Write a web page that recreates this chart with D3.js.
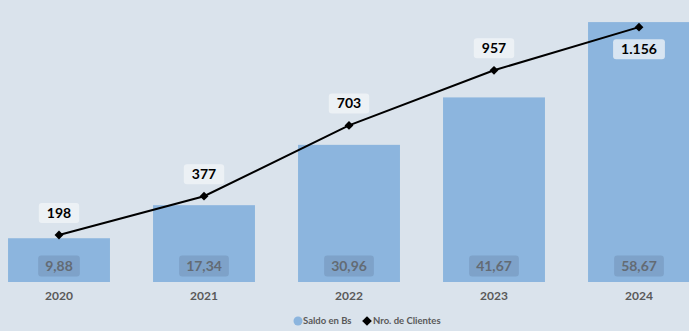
<!DOCTYPE html>
<html><head><meta charset="utf-8">
<script src="https://cdn.jsdelivr.net/npm/d3@7"></script>
<style>
html,body{margin:0;padding:0;background:#dae3ec;}
svg{display:block;font-family:Lato,"Open Sans",sans-serif;}
</style></head>
<body>
<svg id="c" width="689" height="331"></svg>
<script>
const years = ["2020","2021","2022","2023","2024"];
const saldo = [9.88, 17.34, 30.96, 41.67, 58.67];
const clientes = [198, 377, 703, 957, 1156];
const saldoLabels = ["9,88","17,34","30,96","41,67","58,67"];
const clientesLabels = ["198","377","703","957","1.156"];
const legendItems = ["Saldo en Bs","Nro. de Clientes"];

const svg = d3.select("#c");
svg.append("rect").attr("width",689).attr("height",331).attr("fill","#dae3ec");

const x = d3.scaleBand().domain(years).range([-13.5, 711.5]).paddingInner(0.297).paddingOuter(0.1485);
const yBar = d3.scaleLinear().domain([0, 63.66]).range([282, 0]);
const yLine = d3.scaleLinear().domain([0, 1281]).range([278, 0]);
const cx = d => x(d) + x.bandwidth()/2;
const diamond = d3.symbol().type(d3.symbolDiamond2);

svg.selectAll("rect.bar").data(years).join("rect").attr("class","bar")
  .attr("x", d => x(d)).attr("width", x.bandwidth())
  .attr("y", (d,i) => yBar(saldo[i])).attr("height", (d,i) => yBar(0) - yBar(saldo[i]))
  .attr("fill","#8cb5de");

// bar labels
const bl = svg.selectAll("g.bl").data(years).join("g").attr("class","bl")
  .attr("transform", d => `translate(${cx(d)},266)`);
bl.append("text").text((d,i)=>saldoLabels[i])
  .attr("text-anchor","middle").attr("dy","0.35em")
  .attr("font-size",14).attr("font-weight","bold").attr("fill","#636b74")
  .each(function(){
    const b = this.getBBox();
    d3.select(this.parentNode).insert("rect","text")
      .attr("x", b.x-7).attr("y",-10.5).attr("width", b.width+14).attr("height",21)
      .attr("rx",3).attr("fill","#7b9fc5").attr("opacity",0.85);
  });

// x axis labels
svg.selectAll("text.xl").data(years).join("text").attr("class","xl")
  .attr("x", d => cx(d)).attr("y", 296).attr("dy","0.35em")
  .attr("text-anchor","middle").attr("font-size",12).attr("font-weight","bold")
  .attr("fill","#595959").text(d=>d);

// line
const line = d3.line().x((d,i)=>cx(years[i])).y(d=>yLine(d));
svg.append("path").datum(clientes).attr("d", line)
  .attr("fill","none").attr("stroke","#000").attr("stroke-width",2);
svg.selectAll("path.mk").data(clientes).join("path").attr("class","mk")
  .attr("d", diamond.size(50))
  .attr("transform",(d,i)=>`translate(${cx(years[i])},${yLine(d)})`)
  .attr("fill","#000");

// line labels
const ll = svg.selectAll("g.ll").data(clientes).join("g").attr("class","ll")
  .attr("transform",(d,i)=>`translate(${cx(years[i])},${i===clientes.length-1 ? yLine(d)+22 : yLine(d)-22})`);
ll.append("text").text((d,i)=>clientesLabels[i])
  .attr("text-anchor","middle").attr("dy","0.35em")
  .attr("font-size",14).attr("font-weight","bold").attr("fill","#000")
  .each(function(){
    const b = this.getBBox();
    d3.select(this.parentNode).insert("rect","text")
      .attr("x", b.x-8).attr("y",-10).attr("width", b.width+16).attr("height",20)
      .attr("rx",3).attr("fill","#f2f5f8").attr("opacity",0.75);
  });

// legend
const lg = svg.append("g").attr("transform","translate(293,321)");
lg.append("circle").attr("cx",5).attr("cy",0).attr("r",4.5).attr("fill","#8cb5de");
lg.append("text").attr("x",10).attr("dy","0.35em").attr("font-size",9.5).attr("font-weight","bold")
  .attr("fill","#595959").text(legendItems[0]);
lg.append("path").attr("d", d3.symbol().type(d3.symbolDiamond2).size(60))
  .attr("transform","translate(74,0)").attr("fill","#000");
lg.append("text").attr("x",80).attr("dy","0.35em").attr("font-size",9.5).attr("font-weight","bold")
  .attr("fill","#595959").text(legendItems[1]);
</script>
</body></html>
